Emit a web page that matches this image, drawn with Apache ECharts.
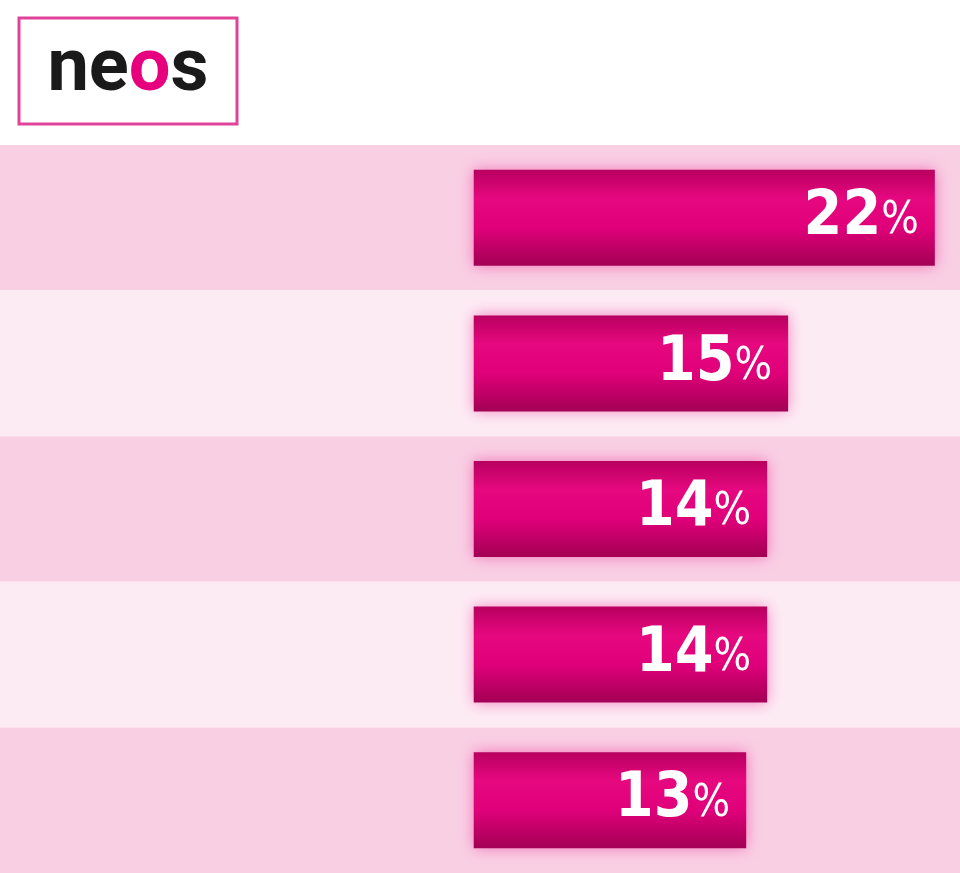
<!DOCTYPE html>
<html lang="de">
<head>
    <meta charset="UTF-8">
    <title>neos</title>
    <script src="https://cdn.jsdelivr.net/npm/echarts@6/dist/echarts.min.js"></script>
    <style type="text/css">
        body{ margin: 0px; padding: 0px; background: #fff; }
        #chart{ width: 960px; height: 873px; }
    </style>
</head>
<body>
<div id="chart"></div>
<script type="text/javascript">
    var categories = ['Parteiprogramm', 'neue Partei,\nfrischer Wind', 'gegen Steuer-\nverschwendung', 'Wunsch nach\nVeränderung', 'Bildung'];
    var values = [22, 15, 14, 14, 13];

    var font = '"DejaVu Sans Condensed", "Liberation Sans", sans-serif';
    var myChart = echarts.init(document.getElementById('chart'));
    var barColor = new echarts.graphic.LinearGradient(0, 0, 0, 1, [
        {offset: 0, color: '#b8005f'},
        {offset: 0.3, color: '#e6087f'},
        {offset: 0.6, color: '#e0007a'},
        {offset: 1, color: '#a30054'}
    ]);
    myChart.setOption({
        backgroundColor: '#ffffff',
        animation: false,
        grid: {left: 0, right: 0, top: 145, bottom: 0, containLabel: false, outerBoundsMode: 'none'},
        xAxis: {
            type: 'value', min: -22.6, max: 23.2, show: false
        },
        yAxis: {
            type: 'category', data: categories, inverse: true,
            axisLine: {show: false, onZero: true}, axisTick: {show: false},
            splitArea: {show: true, areaStyle: {color: ['#f9cfe4', '#fdebf4']}},
            axisLabel: {
                margin: 26, align: 'right',
                fontFamily: font, fontSize: 45, lineHeight: 54,
                color: '#1c1c1c'
            }
        },
        series: [{
            type: 'bar', data: values, barWidth: 96,
            itemStyle: {color: barColor, shadowColor: 'rgba(230,0,125,0.45)', shadowBlur: 14},
            label: {
                show: true, position: 'insideRight', distance: 16,
                formatter: function (p) { return '{n|' + p.value + '}{p|%}'; },
                rich: {
                    n: {fontFamily: font, fontWeight: 'bold', fontSize: 62, color: '#fff'},
                    p: {fontFamily: font, fontSize: 44, color: '#fff', padding: [8, 0, 0, 0]}
                }
            }
        }],
        graphic: [
            {type: 'rect', shape: {x: 19, y: 18, width: 218, height: 106},
             style: {fill: '#fff', stroke: '#e0449a', lineWidth: 3}},
            {type: 'text', x: 128, y: 71,
             style: {
                 text: '{a|ne}{b|o}{a|s}', align: 'center', verticalAlign: 'middle',
                 rich: {
                     a: {fontFamily: 'Roboto', fontWeight: 'bold', fontSize: 74, fill: '#1a1a1a'},
                     b: {fontFamily: 'Roboto', fontWeight: 'bold', fontSize: 74, fill: '#e6007e'}
                 }
             }}
        ]
    });
</script>
</body>
</html>
